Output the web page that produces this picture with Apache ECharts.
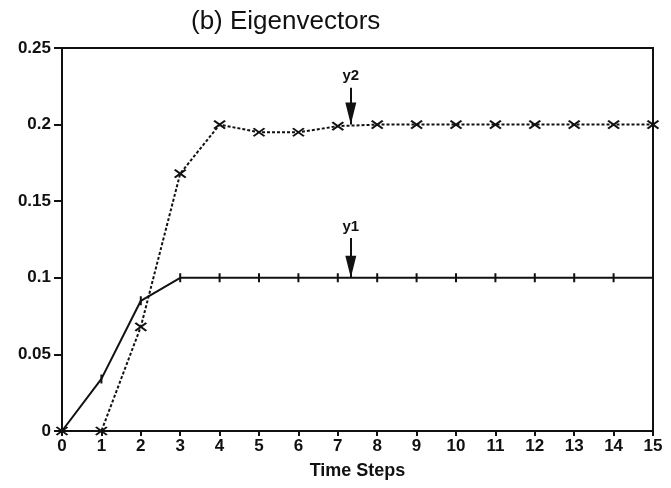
<!DOCTYPE html>
<html><head><meta charset="utf-8">
<script src="https://cdn.jsdelivr.net/npm/echarts@6/dist/echarts.min.js"></script>
<style>html,body{margin:0;padding:0;background:#fff}#c{width:671px;height:488px}</style>
</head><body><div id="c"></div>
<script>
const steps = [0,1,2,3,4,5,6,7,8,9,10,11,12,13,14,15];
const y1 = [0,0.034,0.085,0.1,0.1,0.1,0.1,0.1,0.1,0.1,0.1,0.1,0.1,0.1,0.1,0.1];
const y2 = [0,0,0.068,0.168,0.2,0.195,0.195,0.199,0.2,0.2,0.2,0.2,0.2,0.2,0.2,0.2];
const yTicks = [0,0.05,0.1,0.15,0.2,0.25];
const arrowX = 7.33;
const y1Arrow = [0.126, 0.1];
const y2Arrow = [0.224, 0.2];

const ink = '#111';
const font = 'Liberation Sans, Arial, sans-serif';
const plusSym = 'path://M0,-5L0,5M-0.01,0L0.01,0';
const xSym = 'path://M-4,-3L4,3M-4,3L4,-3';
const arrowHead = 'path://M-22,-22L-22,-22M22,22L22,22M0,0L-5.5,22L5.5,22Z';

function arrowLine(label, ys){
  return {
    silent: true,
    symbol: ['none', arrowHead],
    symbolSize: 44,
    lineStyle: {color: ink, type: 'solid', width: 2},
    itemStyle: {color: ink},
    label: {show: true, position: 'start', formatter: label, color: ink, fontFamily: font, fontWeight: 'bold', fontSize: 15, distance: 4},
    data: [[{coord: [arrowX, ys[0]]}, {coord: [arrowX, ys[1]]}]]
  };
}

const chart = echarts.init(document.getElementById('c'));
chart.setOption({
  animation: false,
  backgroundColor: '#fff',
  title: {text: '(b) Eigenvectors', left: 186, top: 4, textStyle: {fontFamily: font, fontWeight: 'normal', fontSize: 26, color: ink}},
  grid: {left: 62, right: 18, top: 48, bottom: 57, show: true, borderColor: ink, borderWidth: 2},
  xAxis: {
    type: 'value', min: 0, max: 15, interval: 1,
    name: 'Time Steps', nameLocation: 'middle', nameGap: 31,
    nameTextStyle: {fontFamily: font, fontWeight: 'bold', fontSize: 18, color: ink},
    axisLine: {lineStyle: {color: ink, width: 2}},
    axisTick: {show: true, length: 5, lineStyle: {color: ink, width: 2}},
    axisLabel: {fontFamily: font, fontWeight: 'bold', fontSize: 17, color: ink, margin: 7},
    splitLine: {show: false}
  },
  yAxis: {
    type: 'value', min: 0, max: 0.25, interval: 0.05,
    axisLine: {show: true, lineStyle: {color: ink, width: 2}},
    axisTick: {show: true, length: 8, lineStyle: {color: ink, width: 2}},
    axisLabel: {fontFamily: font, fontWeight: 'bold', fontSize: 17, color: ink, margin: 11,
      formatter: v => { const t = yTicks.find(k => Math.abs(k - v) < 1e-9); return String(t !== undefined ? t : v); }},
    splitLine: {show: false}
  },
  series: [
    {
      name: 'y1', type: 'line', data: steps.map((s,i) => [s, y1[i]]),
      symbol: plusSym, symbolSize: [2, 9], showAllSymbol: true,
      lineStyle: {color: ink, width: 2, type: 'solid'},
      itemStyle: {color: ink, borderColor: ink, borderWidth: 2},
      markLine: arrowLine('y1', y1Arrow), z: 3
    },
    {
      name: 'y2', type: 'line', data: steps.map((s,i) => [s, y2[i]]),
      symbol: xSym, symbolSize: [11, 8], showAllSymbol: true,
      lineStyle: {color: ink, width: 2, type: [3,2]},
      itemStyle: {color: ink, borderColor: ink, borderWidth: 2},
      markLine: arrowLine('y2', y2Arrow), z: 3
    }
  ]
});
</script></body></html>
